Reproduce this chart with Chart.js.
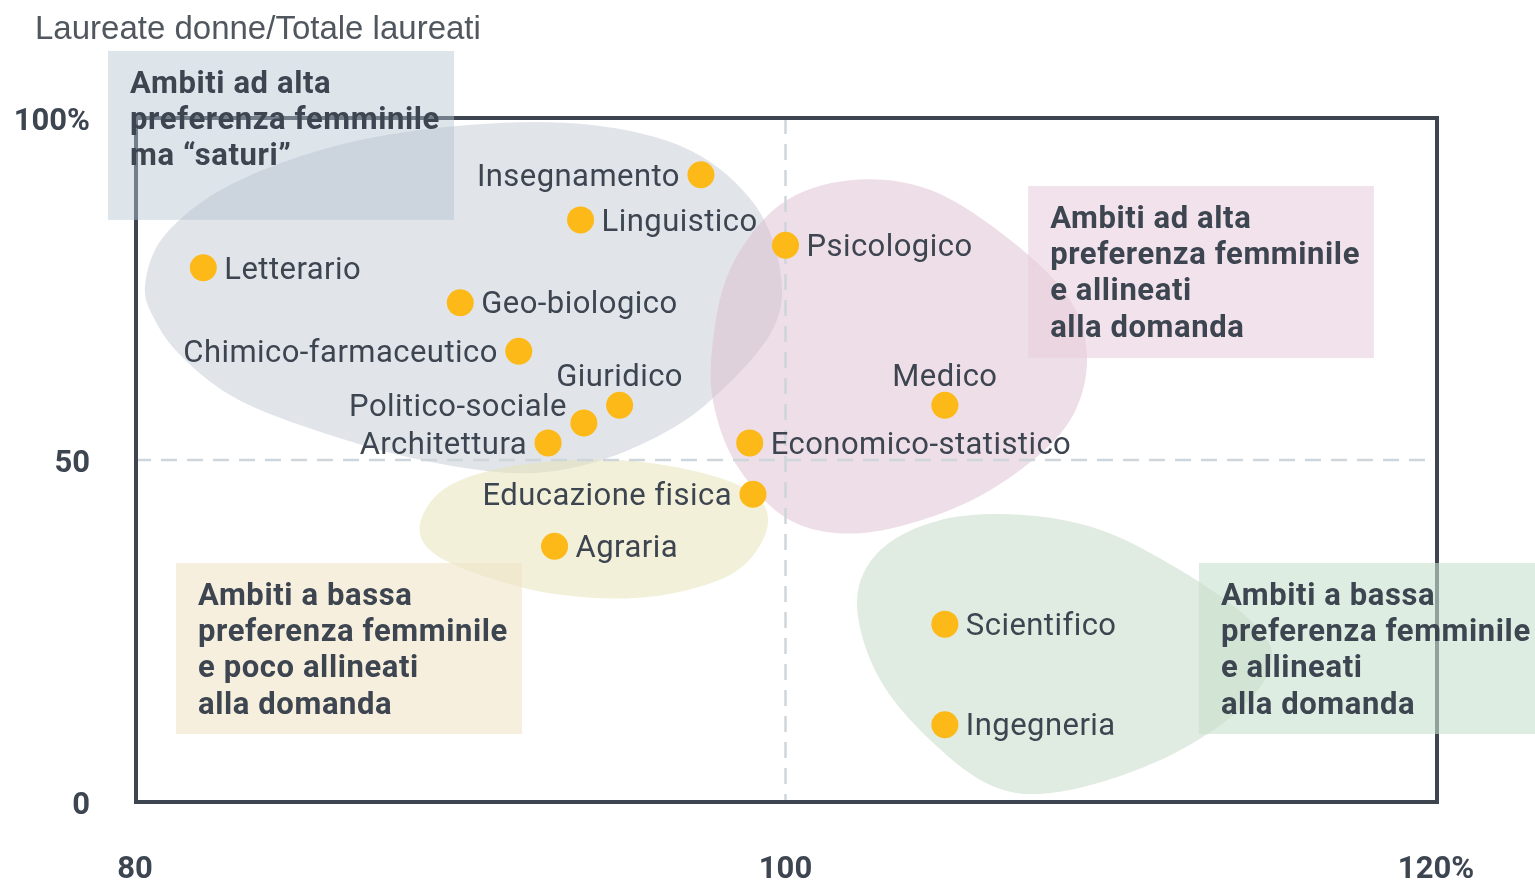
<!DOCTYPE html>
<html>
<head>
<meta charset="utf-8">
<script src="https://cdn.jsdelivr.net/npm/chart.js@4.4.1/dist/chart.umd.min.js"></script>
<style>
  html, body { margin: 0; padding: 0; background: #ffffff; }
  #wrap { width: 1535px; height: 880px; }
</style>
</head>
<body>
<div id="wrap"><canvas id="chartContainer" width="1535" height="880"></canvas></div>
<script>
// Data: ambiti disciplinari
const categories = [
  "Insegnamento", "Linguistico", "Letterario", "Geo-biologico", "Chimico-farmaceutico",
  "Giuridico", "Politico-sociale", "Architettura", "Psicologico", "Medico",
  "Economico-statistico", "Educazione fisica", "Agraria", "Scientifico", "Ingegneria"
];
// x: indice di allineamento alla domanda (%)
const allineamento = [97.4, 93.7, 82.1, 90.0, 91.8, 94.9, 93.8, 92.7, 100.0, 104.9, 98.9, 99.0, 92.9, 104.9, 104.9];
// y: laureate donne / totale laureati (%)
const quotaDonne = [91.7, 85.1, 78.1, 73.0, 65.9, 58.0, 55.4, 52.5, 81.4, 58.0, 52.5, 45.0, 37.4, 26.0, 11.3];
const xTicks = [80, 100, 120];
const yTicks = [0, 50, 100];

// where each label sits relative to its dot
const labelSide = ["left", "right", "right", "right", "left", "above", "leftup", "left",
  "right", "above", "right", "left", "right", "right", "right"];

const textColor = "#3d4550";
const fontFace = "Roboto, 'Noto Sans', sans-serif";

// background shapes (data units) - outline points for smooth closed curves
const blobs = [
  { color: "rgba(200,207,216,0.55)", pts: [[80.31,75.6],[80.92,82.9],[82.92,90.2],[86.3,96.1],[90.3,99.0],[93.99,99.0],[97.06,95.3],[99.06,87.3],[99.86,77.0],[99.52,68.3],[97.53,58.0],[95.53,52.2],[93.37,48.8],[91.22,48.2],[88.15,50.7],[85.07,55.1],[82.92,59.5],[81.38,65.4],[80.61,70.5]] },
  { color: "rgba(222,190,208,0.5)", pts: [[97.74,66.1],[98.29,77.8],[99.83,87.3],[101.98,90.9],[104.44,89.5],[106.9,82.2],[108.75,73.4],[109.27,64.6],[108.75,55.8],[107.21,48.5],[105.06,42.7],[102.29,39.3],[100.14,41.2],[98.6,48.5],[97.83,57.3]] },
  { color: "rgba(232,226,180,0.5)", pts: [[88.79,41.2],[89.68,46.3],[91.84,49.3],[94.91,50.0],[97.68,47.8],[99.22,44.2],[99.37,39.0],[98.29,33.2],[95.83,30.0],[93.07,30.3],[90.61,33.2],[89.07,36.8]] },
  { color: "rgba(194,215,196,0.5)", pts: [[102.2,29.5],[102.91,36.8],[104.75,41.2],[107.21,42.0],[109.67,39.8],[112.13,33.9],[114.28,26.6],[114.96,20.8],[113.97,13.5],[111.51,6.1],[108.44,1.5],[106.29,2.5],[104.14,10.5],[102.75,19.3]] }
];

// text boxes (data units: x0, x1, yTop, yBottom)
const boxes = [
  { color: "rgba(180,195,209,0.45)", x0: 79.17, x1: 89.81, y0: 109.8, y1: 85.1,
    lines: ["Ambiti ad alta", "preferenza femminile", "ma \u201Csaturi\u201D"] },
  { color: "rgba(232,206,221,0.6)", x0: 107.46, x1: 118.09, y0: 90.06, y1: 64.9,
    lines: ["Ambiti ad alta", "preferenza femminile", "e allineati", "alla domanda"] },
  { color: "rgba(240,228,200,0.6)", x0: 81.26, x1: 91.9, y0: 34.94, y1: 9.94,
    lines: ["Ambiti a bassa", "preferenza femminile", "e poco allineati", "alla domanda"] },
  { color: "rgba(200,225,205,0.6)", x0: 112.71, x1: 123.1, y0: 34.94, y1: 9.94,
    lines: ["Ambiti a bassa", "preferenza femminile", "e allineati", "alla domanda"] }
];

function smoothPath(ctx, p) {
  const n = p.length;
  ctx.beginPath();
  ctx.moveTo(p[0][0], p[0][1]);
  for (let i = 0; i < n; i++) {
    const p0 = p[(i - 1 + n) % n], p1 = p[i], p2 = p[(i + 1) % n], p3 = p[(i + 2) % n];
    ctx.bezierCurveTo(
      p1[0] + (p2[0] - p0[0]) / 6, p1[1] + (p2[1] - p0[1]) / 6,
      p2[0] - (p3[0] - p1[0]) / 6, p2[1] - (p3[1] - p1[1]) / 6,
      p2[0], p2[1]);
  }
  ctx.closePath();
}

const decorPlugin = {
  id: "decor",
  beforeDatasetsDraw(chart) {
    const { ctx, chartArea: a, scales: { x, y } } = chart;
    ctx.save();
    // blobs
    blobs.forEach(b => {
      const pts = b.pts.map(q => [x.getPixelForValue(q[0]), y.getPixelForValue(q[1])]);
      ctx.fillStyle = b.color;
      smoothPath(ctx, pts);
      ctx.fill();
    });
    // dashed reference lines
    ctx.strokeStyle = "#cfd6db";
    ctx.lineWidth = 2.5;
    ctx.setLineDash([16, 10]);
    const xm = x.getPixelForValue(100), ym = y.getPixelForValue(50);
    ctx.beginPath();
    ctx.moveTo(xm, a.top); ctx.lineTo(xm, a.bottom);
    ctx.moveTo(a.left, ym); ctx.lineTo(a.right, ym);
    ctx.stroke();
    ctx.setLineDash([]);
    // frame
    ctx.strokeStyle = textColor;
    ctx.lineWidth = 4;
    ctx.strokeRect(a.left + 1, a.top, a.right - a.left, a.bottom - a.top);
    // boxes
    boxes.forEach(b => {
      const l = x.getPixelForValue(b.x0), r = x.getPixelForValue(b.x1);
      const t = y.getPixelForValue(b.y0), btm = y.getPixelForValue(b.y1);
      ctx.fillStyle = b.color;
      ctx.fillRect(l, t, r - l, btm - t);
      ctx.fillStyle = textColor;
      ctx.font = "bold 31px " + fontFace;
      ctx.letterSpacing = "0.6px";
      ctx.textAlign = "left";
      ctx.textBaseline = "middle";
      b.lines.forEach((s, i) => ctx.fillText(s, l + 22, t + 34 + i * 36.3));
    });
    // title
    ctx.letterSpacing = "0px";
    ctx.fillStyle = "#50575e";
    ctx.font = "33px 'Liberation Sans', Arial, sans-serif";
    ctx.textAlign = "left";
    ctx.textBaseline = "middle";
    ctx.fillText("Laureate donne/Totale laureati", 35, 30);
    ctx.restore();
  },
  afterDatasetsDraw(chart) {
    const { ctx } = chart;
    const meta = chart.getDatasetMeta(0);
    ctx.save();
    ctx.fillStyle = textColor;
    ctx.font = "31px " + fontFace;
    ctx.letterSpacing = "0.45px";
    ctx.textBaseline = "middle";
    meta.data.forEach((pt, i) => {
      const side = labelSide[i];
      let tx = pt.x, ty = pt.y + 3;
      if (side === "left") { ctx.textAlign = "right"; tx -= 21; }
      else if (side === "right") { ctx.textAlign = "left"; tx += 21; }
      else if (side === "above") { ctx.textAlign = "center"; ty -= 30; }
      else if (side === "leftup") { ctx.textAlign = "right"; tx -= 17; ty -= 18; }
      ctx.fillText(categories[i], tx, ty);
    });
    ctx.restore();
  }
};

const data = {
  datasets: [{
    label: "Ambiti",
    data: categories.map((c, i) => ({ x: allineamento[i], y: quotaDonne[i] })),
    backgroundColor: "#fcb918",
    borderWidth: 0,
    pointRadius: 13.5,
    pointHoverRadius: 13.5
  }]
};

const config = {
  type: "scatter",
  data: data,
  options: {
    responsive: false,
    animation: false,
    events: [],
    layout: { padding: { top: 118, right: 99, left: 0, bottom: 0 } },
    scales: {
      x: {
        type: "linear",
        min: 80,
        max: 120,
        afterBuildTicks: s => { s.ticks = xTicks.map(v => ({ value: v })); },
        afterFit: s => { s.height = 78; },
        grid: { display: false },
        border: { display: false },
        ticks: {
          padding: 42,
          color: textColor,
          font: { family: fontFace, size: 31, weight: "bold" },
          maxRotation: 0,
          callback: v => (v === 120 ? "120%" : String(v))
        }
      },
      y: {
        type: "linear",
        min: 0,
        max: 100,
        afterBuildTicks: s => { s.ticks = yTicks.map(v => ({ value: v })); },
        afterFit: s => { s.width = 135; },
        grid: { display: false },
        border: { display: false },
        ticks: {
          padding: 37,
          labelOffset: 4,
          color: textColor,
          font: { family: fontFace, size: 31, weight: "bold" },
          callback: v => (v === 100 ? "100%" : String(v))
        }
      }
    },
    plugins: {
      legend: { display: false },
      tooltip: { enabled: false }
    }
  },
  plugins: [decorPlugin]
};

const ctx = document.getElementById("chartContainer").getContext("2d");
const scatterChart = new Chart(ctx, config);
</script>
</body>
</html>
